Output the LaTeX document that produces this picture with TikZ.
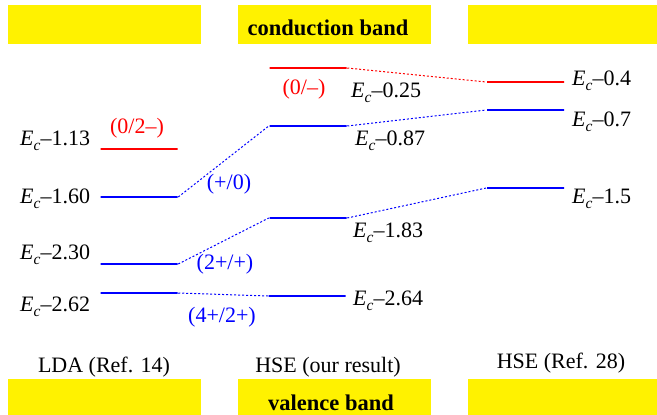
\documentclass[tikz,border=0pt]{standalone}
\usepackage{fontspec}
\setmainfont{Liberation Serif}
\newcommand{\Ec}{\textit{E}\raisebox{-0.5ex}{\fontsize{15.5}{15.5}\selectfont\textit{c}}}
\begin{document}
\begin{tikzpicture}
  [x=1pt,y=-1pt,every node/.style={font=\fontsize{22}{26}\selectfont},
   band/.style={fill=yellow,draw=none,inner sep=0pt,minimum width=193pt,minimum height=39pt},
   level/.style={draw,line width=1.5pt,inner sep=0pt,minimum width=77pt,minimum height=0pt},
   lbl/.style={anchor=base west,inner sep=0pt},
   chg/.style={anchor=base,inner sep=0pt},
   link/.style={dash pattern=on 2pt off 2pt,line width=1pt}]
  \useasboundingbox (0,0) rectangle (657,415);

  % bands
  \node[band] (cbL) at (104.5,24.5) {};
  \node[band] (cbM) at (334.5,24.5) {};
  \node[band,minimum width=189pt] (cbR) at (562.5,24.5) {};
  \node[band,minimum height=36pt] (vbL) at (104.5,397) {};
  \node[band,minimum height=36pt] (vbM) at (334.5,397) {};
  \node[band,minimum width=189pt,minimum height=36pt] (vbR) at (562.5,397) {};
  \node[chg,font=\fontsize{22.5}{26}\selectfont\bfseries] (cbT) at (328,35) {conduction band};
  \node[chg,font=\fontsize{22.5}{26}\selectfont\bfseries] (vbT) at (331,410) {valence band};

  % levels
  \node[level,red] (lda1) at (139,149) {};
  \node[level,blue] (lda2) at (139,197) {};
  \node[level,blue] (lda3) at (139,264) {};
  \node[level,blue] (lda4) at (139,293) {};
  \node[level,red] (hse1) at (308,68) {};
  \node[level,blue] (hse2) at (308,126) {};
  \node[level,blue] (hse3) at (308,218) {};
  \node[level,blue] (hse4) at (307,296) {};
  \node[level,red] (ref1) at (525.5,82) {};
  \node[level,blue] (ref2) at (525.5,110) {};
  \node[level,blue] (ref3) at (525.5,188) {};

  \draw[link,red] (hse1.east) -- (ref1.west);
  \foreach \from/\to in {lda2/hse2, lda3/hse3, lda4/hse4, hse2/ref2, hse3/ref3}
    \draw[link,blue] (\from.east) -- (\to.west);

  % energies
  \node[lbl] (e1) at (20,145) {\Ec–1.13};
  \node[lbl] (e2) at (20,203) {\Ec–1.60};
  \node[lbl] (e3) at (20,259) {\Ec–2.30};
  \node[lbl] (e4) at (20,311) {\Ec–2.62};
  \node[lbl] (e5) at (351,97) {\Ec–0.25};
  \node[lbl] (e6) at (355,145) {\Ec–0.87};
  \node[lbl] (e7) at (353,237) {\Ec–1.83};
  \node[lbl] (e8) at (353,305) {\Ec–2.64};
  \node[lbl] (e9) at (572,85) {\Ec–0.4};
  \node[lbl] (e10) at (572,126) {\Ec–0.7};
  \node[lbl] (e11) at (572,203) {\Ec–1.5};

  % transitions
  \node[chg,red] (t1) at (137,133) {(0/2–)};
  \node[chg,red] (t2) at (304,94) {(0/–)};
  \node[chg,blue] (t3) at (229,189) {(+/0)};
  \node[chg,blue] (t4) at (225,269) {(2+/+)};
  \node[chg,blue] (t5) at (222,322) {(4+/2+)};

  % methods
  \node[chg] (m1) at (104,372) {LDA (Ref. 14)};
  \node[chg] (m2) at (328,372) {HSE (our result)};
  \node[chg] (m3) at (561,368) {HSE (Ref. 28)};
\end{tikzpicture}
\end{document}
